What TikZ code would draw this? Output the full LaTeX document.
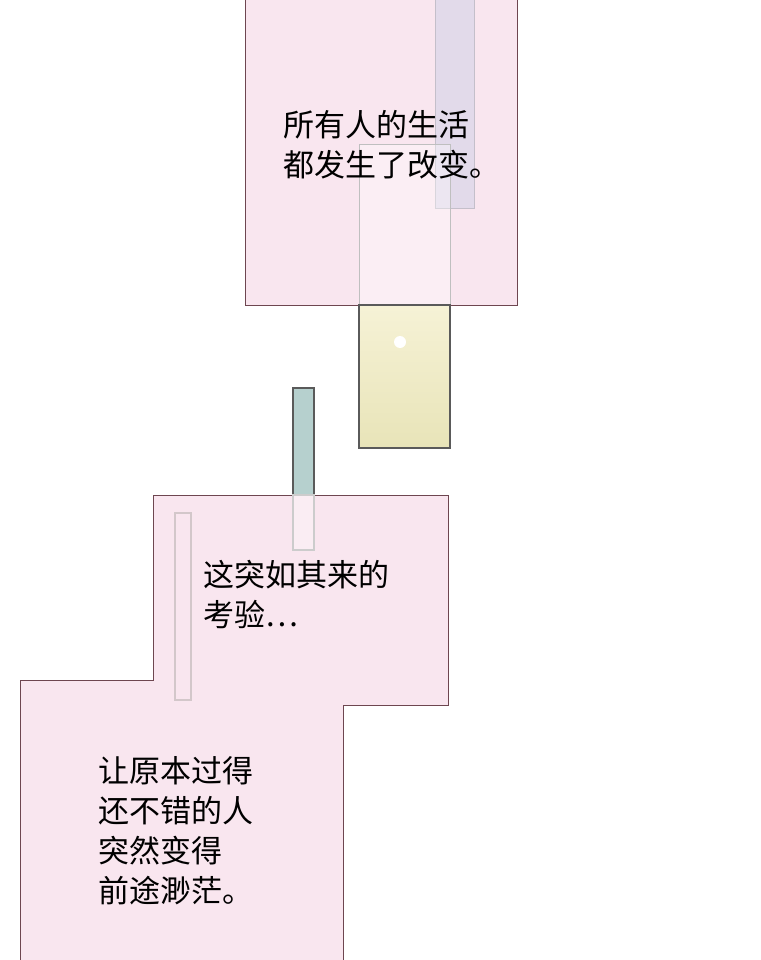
\documentclass[tikz,border=0pt]{standalone}
\usepackage{fontspec}
\newfontfamily\cjk{Noto Sans CJK SC}
\usepackage{xcolor}
\definecolor{panelpink}{RGB}{249,230,239}
\definecolor{panelline}{RGB}{110,70,80}
\definecolor{lavender}{RGB}{226,218,234}
\definecolor{creamtop}{RGB}{246,242,214}
\definecolor{creambot}{RGB}{232,228,184}
\definecolor{tealgray}{RGB}{182,208,206}
\definecolor{stripline}{RGB}{90,90,90}
\tikzset{%
    panel/.style={draw=panelline,fill=panelpink,line width=1pt},
    strip/.style={draw=stripline,line width=1.5pt},
    caption/.style={font=\cjk\fontsize{31}{40}\selectfont,align=left,anchor=north west,inner sep=0pt}
}
\begin{document}
\begin{tikzpicture}[x=1pt,y=-1pt]
%-----------------------------------------------
    \useasboundingbox[fill=white] (0,0) rectangle (760,960);
    \fill[panelpink] (245,-2) rectangle (517,305);
    \draw[panelline,line width=1pt] (245,-2)--(245,305)--(517,305)--(517,-2);
    \draw[draw=lavender!70!gray,fill=lavender] (435,-2) rectangle (474,208);
    \fill[white,opacity=0.35] (359,145) rectangle (450,305);
    \draw[black!25,line width=1pt] (359,305)--(359,145)--(450,145)--(450,305);
%-----------------------------------------------
    \shade[top color=creamtop,bottom color=creambot] (359,305) rectangle (450,448);
    \draw[strip] (359,305) rectangle (450,448);
    \fill[white] (400,342) circle (6);
    \fill[tealgray] (293,388) rectangle (314,495);
    \draw[strip] (293,495)--(293,388)--(314,388)--(314,495);
%-----------------------------------------------
    \draw[panel] (153,495)--(448,495)--(448,705)--(343,705)--(343,962)--(20,962)--(20,680)--(153,680)--cycle;
    \draw[black!20,fill=white,fill opacity=0.3,line width=1.5pt] (293,495) rectangle (314,550);
    \draw[panelline!30,line width=1.5pt] (175,513) rectangle (191,700);
%-----------------------------------------------
    \node[caption] (top) at (283,110) {所有人的生活\\都发生了改变。};
    \node[caption] (mid) at (203,560) {这突如其来的\\考验…};
    \node[caption] (bot) at (98,756) {让原本过得\\还不错的人\\突然变得\\前途渺茫。};
\end{tikzpicture}
\end{document}
